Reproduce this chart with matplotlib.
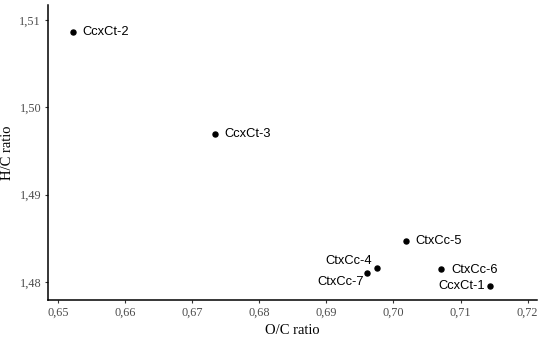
import matplotlib.pyplot as plt
from matplotlib.ticker import FuncFormatter

names = ["CcxCt-1", "CcxCt-2", "CcxCt-3", "CtxCc-4", "CtxCc-5", "CtxCc-6", "CtxCc-7"]
oc = [0.71442, 0.65224, 0.67340, 0.69749, 0.70186, 0.70712, 0.69609]
hc = [1.47958, 1.50863, 1.49691, 1.48164, 1.48470, 1.48145, 1.48100]
# label offsets in points (dx, dy, ha)
offs = {"CcxCt-1": (-3.5, 0, "right"), "CcxCt-2": (7, 0, "left"),
        "CcxCt-3": (7, 0, "left"), "CtxCc-4": (-3, 5, "right"),
        "CtxCc-5": (7, 0, "left"), "CtxCc-6": (7, -0.5, "left"),
        "CtxCc-7": (-2.5, -6.5, "right")}

fig = plt.figure(figsize=(5.44, 3.4), dpi=100)
ax = fig.add_axes([48/544, 40/340, 489/544, 295/340])
ax.scatter(oc, hc, s=13, color="black", zorder=3)
for n, x, y in zip(names, oc, hc):
    dx, dy, ha = offs[n]
    ax.annotate(n, (x, y), xytext=(dx, dy), textcoords="offset points",
                ha=ha, va="center", fontsize=9.3, family="Liberation Sans")

ax.set_xlim(0.6485, 0.7214)
ax.set_ylim(1.47794, 1.51172)
ax.set_xticks([0.65, 0.66, 0.67, 0.68, 0.69, 0.70, 0.71, 0.72])
ax.set_yticks([1.48, 1.49, 1.50, 1.51])
ax.xaxis.set_major_formatter(FuncFormatter(lambda v, p: f"{v:.2f}".replace(".", ",")))
ax.yaxis.set_major_formatter(FuncFormatter(lambda v, p: f"{v:.2f}".replace(".", ",")))
for lab in ax.get_xticklabels() + ax.get_yticklabels():
    lab.set_family("Liberation Serif")
ax.tick_params(labelsize=8.8, labelcolor="#4d4d4d", length=2.5, width=0.8, color="#333333", pad=2.5)
ax.spines["top"].set_visible(False)
ax.spines["right"].set_visible(False)
ax.spines["left"].set_linewidth(1.1)
ax.spines["bottom"].set_linewidth(1.1)
ax.set_xlabel("O/C ratio", family="Liberation Serif", fontsize=10.5, labelpad=4)
ax.set_ylabel("H/C ratio", family="Liberation Serif", fontsize=10.5, labelpad=4)
fig.savefig("out.png", dpi=100)
